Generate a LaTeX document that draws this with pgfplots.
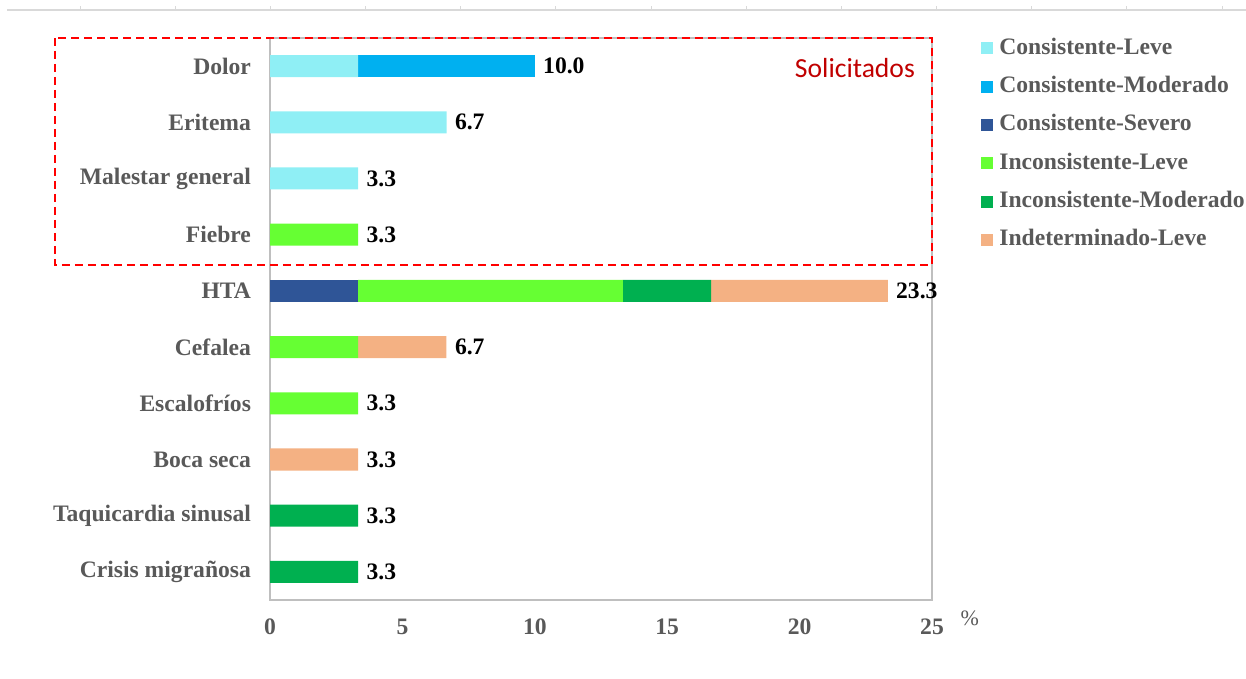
\documentclass[border=0pt]{standalone}
\usepackage{fontspec}
\setmainfont{Liberation Serif}
\newfontfamily\calibri{Carlito}
\usepackage{pgfplots}
\pgfplotsset{compat=1.18}
\usepackage{pgfplotstable}
\definecolor{cl}{HTML}{8FEFF5}
\definecolor{cm}{HTML}{00B0F0}
\definecolor{cs}{HTML}{2F5597}
\definecolor{il}{HTML}{66FF33}
\definecolor{im}{HTML}{00B050}
\definecolor{ind}{HTML}{F4B183}
\definecolor{txtgray}{HTML}{595959}
\definecolor{axgray}{HTML}{BFBFBF}
\definecolor{topgray}{HTML}{D9D9D9}
\definecolor{solred}{HTML}{C00000}
\newcommand\lf{\fontsize{11.8pt}{14pt}\selectfont\bfseries}
\pgfplotstableread{
y cl cm cs il im ind
0 3.33 6.67 0 0 0 0
1 6.67 0 0 0 0 0
2 3.33 0 0 0 0 0
3 0 0 0 3.33 0 0
4 0 0 3.33 10 3.33 6.67
5 0 0 0 3.33 0 3.33
6 0 0 0 3.33 0 0
7 0 0 0 0 0 3.33
8 0 0 0 0 3.33 0
9 0 0 0 0 3.33 0
}\datatable
\pgfplotstableread{
y tot lab
0 10.0 10.0
1 6.67 6.7
2 3.33 3.3
3 3.33 3.3
4 23.33 23.3
5 6.67 6.7
6 3.33 3.3
7 3.33 3.3
8 3.33 3.3
9 3.33 3.3
}\totals
\pgfplotsset{common/.style={
  at={(135pt,39.5pt)}, anchor=south west,
  scale only axis, width=331pt, height=281pt,
  xmin=0, xmax=25, ymin=-0.5, ymax=9.5, y dir=reverse, clip=false}}
\begin{document}
\begin{tikzpicture}
\useasboundingbox (0,0) rectangle (623pt,339.5pt);
\draw[color=topgray, line width=0.7pt] (3.5pt,334.5pt) -- (623pt,334.5pt);
\foreach \x in {80,175,270,365,460,555,651,746,841,936,1031,1126,1222}
  \draw[color=topgray, line width=0.5pt] (\x*0.5pt,334.5pt) -- ++(0,2pt);
\begin{axis}[
  common,
  xbar stacked, bar width=11pt,
  ytick={0,...,9},
  yticklabels={Dolor,Eritema,Malestar general,Fiebre,HTA,Cefalea,Escalofríos,Boca seca,Taquicardia sinusal,Crisis migrañosa},
  xtick={0,5,...,25},
  major tick length=0pt,
  axis line style={draw=axgray, line width=0.6pt},
  tick label style={font=\lf, text=txtgray},
  /pgf/number format/assume math mode=true,
  yticklabel style={xshift=-6pt},
  xticklabel style={yshift=-6pt},
  legend style={draw=none, fill=none, at={(1,1)}, anchor=north west,
    xshift=24.5pt, yshift=0pt, font=\lf, text=txtgray, row sep=9.15pt,
    column sep=3pt, inner sep=0pt,
    nodes={inner sep=0pt, text height=8pt, text depth=2pt}},
  legend cell align=left,
  legend image code/.code={\fill[#1] (0pt,-3pt) rectangle (6pt,3pt);},
]
\addplot[fill=cl, draw=none] table[x=cl, y=y]{\datatable};
\addplot[fill=cm, draw=none] table[x=cm, y=y]{\datatable};
\addplot[fill=cs, draw=none] table[x=cs, y=y]{\datatable};
\addplot[fill=il, draw=none] table[x=il, y=y]{\datatable};
\addplot[fill=im, draw=none] table[x=im, y=y]{\datatable};
\addplot[fill=ind, draw=none] table[x=ind, y=y]{\datatable};
\legend{Consistente-Leve,Consistente-Moderado,Consistente-Severo,Inconsistente-Leve,Inconsistente-Moderado,Indeterminado-Leve}
\draw[color=red, line width=1.2pt, dash pattern=on 4pt off 2.5pt]
  (axis cs:-8.12,-0.5) rectangle (axis cs:25,3.54);
\node[anchor=east, text=solred, font=\calibri\fontsize{13.8pt}{16pt}\selectfont]
  at (axis cs:24.62,0.04) {Solicitados};
\node[text=txtgray, font=\fontsize{11pt}{13pt}\selectfont] at (axis cs:26.43,9.82) {\%};
\end{axis}
\begin{axis}[common, hide axis]
\addplot[only marks, mark=none, nodes near coords, point meta=explicit symbolic,
  every node near coord/.append style={anchor=west, font=\lf, text=black, inner sep=4pt}]
  table[x=tot, y=y, meta=lab]{\totals};
\end{axis}
\end{tikzpicture}
\end{document}
